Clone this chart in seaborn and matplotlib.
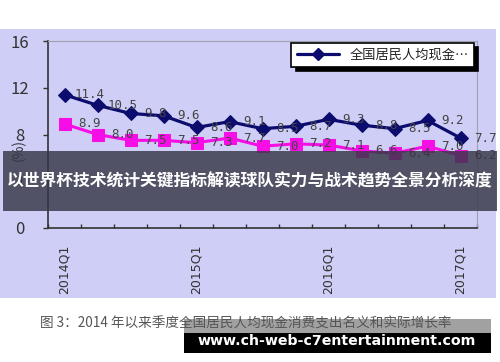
import matplotlib
matplotlib.use("Agg")
import matplotlib.pyplot as plt
import seaborn as sns
import pandas as pd
from matplotlib.patches import Rectangle
from matplotlib.lines import Line2D

# ---- data ----
quarters = ["2014Q1", "2014Q2", "2014Q3", "2014Q4",
            "2015Q1", "2015Q2", "2015Q3", "2015Q4",
            "2016Q1", "2016Q2", "2016Q3", "2016Q4", "2017Q1"]
shown_ticks = ["2014Q1", "2015Q1", "2016Q1", "2017Q1"]
nominal = [11.4, 10.5, 9.8, 9.6, 8.6, 9.1, 8.5, 8.7, 9.3, 8.8, 8.5, 9.2, 7.7]
real = [8.9, 8.0, 7.5, 7.5, 7.3, 7.7, 7.0, 7.2, 7.1, 6.6, 6.4, 7.0, 6.2]
legend_label = "全国居民人均现金…"
series_names = ["nominal", "real"]
y_ticks = [0, 4, 8, 12, 16]
caption = "图 3：2014 年以来季度全国居民人均现金消费支出名义和实际增长率"
banner = "以世界杯技术统计关键指标解读球队实力与战术趋势全景分析深度"
watermark = "www.ch-web-c7entertainment.com"

sns.set_style("white")
plt.rcParams["font.family"] = ["Noto Sans CJK SC", "DejaVu Sans"]

W, H = 500, 362
fig = plt.figure(figsize=(W / 100, H / 100), dpi=100)
fig.patch.set_facecolor("white")

def px_rect(x0, y0, x1, y1, **kw):
    fig.patches.append(Rectangle((x0 / W, 1 - y1 / H), (x1 - x0) / W, (y1 - y0) / H,
                                 transform=fig.transFigure, **kw))

lav = "#CECEF6"
px_rect(0, 29, 496, 298, facecolor=lav, edgecolor="none", zorder=-5)

ax_l, ax_r, ax_t, ax_b = 48, 477, 41, 228
ax = fig.add_axes([ax_l / W, 1 - ax_b / H, (ax_r - ax_l) / W, (ax_b - ax_t) / H])
ax.set_facecolor(lav)
ax.set_zorder(1)

idx = list(range(len(quarters)))
df = pd.DataFrame({
    "x": idx * 2,
    "y": nominal + real,
    "s": [series_names[0]] * len(idx) + [series_names[1]] * len(idx),
})
blue = "#0C0C6E"
pink = "#F70DE6"
sns.lineplot(data=df[df.s == "nominal"], x="x", y="y", color=blue, marker="D",
             markersize=7, linewidth=2.3, markeredgecolor=blue, ax=ax, legend=False, zorder=3)
sns.lineplot(data=df[df.s == "real"], x="x", y="y", color=pink, marker="s",
             markersize=9, linewidth=2.2, markeredgecolor=pink, ax=ax, legend=False, zorder=2)

lab_kw = dict(textcoords="offset points", ha="center", va="center", fontsize=9,
              color="#444444", family="DejaVu Sans Mono", annotation_clip=False, zorder=4)
for i, v in enumerate(nominal):
    ax.annotate(f"{v:.1f}", (i, v), xytext=(18, 0), **lab_kw)
for i, v in enumerate(real):
    ax.annotate(f"{v:.1f}", (i, v), xytext=(18, 0), **lab_kw)

ax.set_xlim(-0.5, len(quarters) - 0.5)
ax.set_ylim(0, 16)
ax.set_yticks(y_ticks)
ax.set_yticklabels([str(t) for t in y_ticks], fontsize=12, color="#333333")
ax.tick_params(axis="y", direction="out", length=3.6, width=1, color="#333333", pad=17, left=True)
for lab in ax.get_yticklabels():
    lab.set_ha("center")

major = [quarters.index(q) for q in shown_ticks]
ax.set_xticks(major)
ax.set_xticklabels(shown_ticks, rotation=90, fontsize=9, color="#333333", family="DejaVu Sans")
ax.set_xticks([i - 0.5 for i in range(len(quarters) + 1)], minor=True)
ax.tick_params(axis="x", which="major", length=0, pad=12)
ax.tick_params(axis="x", which="minor", direction="in", length=3, width=1, color="#333333", bottom=True)
ax.set_xlabel("")
ax.set_ylabel("")

for s in ["left", "bottom"]:
    ax.spines[s].set_color("#333333")
    ax.spines[s].set_linewidth(1.2)
for s in ["top", "right"]:
    ax.spines[s].set_color("#A0A0B0")
    ax.spines[s].set_linewidth(0.8)

fig.text(19 / W, 1 - 150 / H, "(%)", rotation=90, ha="center", va="center",
         fontsize=10, color="#333333", zorder=2)

handle = Line2D([], [], color=blue, marker="D", markersize=6, linewidth=2.3)
leg = ax.legend([handle], [legend_label], loc="upper right", bbox_to_anchor=(0.993, 0.989),
                borderaxespad=0, fancybox=False, frameon=True, handlelength=3.2,
                shadow={"color": "black", "alpha": 1, "ox": 3, "oy": -3},
                prop={"family": ["Noto Sans CJK SC"], "size": 9.5})
leg.get_frame().set_edgecolor("black")
leg.get_frame().set_linewidth(1.2)
leg.get_frame().set_facecolor("white")
for t in leg.get_texts():
    t.set_color("#222222")

# overlay banner
px_rect(3, 151, 497, 211, facecolor=(55 / 255, 55 / 255, 71 / 255), alpha=0.82,
        edgecolor="none", zorder=10)
fig.text(250 / W, 1 - 181 / H, banner, ha="center", va="center", color="white",
         fontsize=12.1, fontweight="bold", zorder=11)

# caption and watermark
fig.text(40 / W, 1 - 324 / H, caption, ha="left", va="center", color="#555555",
         fontsize=9.8, zorder=5)
px_rect(184, 319, 491, 333, facecolor="#555555", alpha=0.55, edgecolor="none", zorder=6)
px_rect(184, 333, 491, 353, facecolor="black", edgecolor="none", zorder=7)
fig.text(337 / W, 1 - 341 / H, watermark, ha="center", va="center", color="white",
         fontsize=10.2, fontweight="bold", family="DejaVu Sans", zorder=8)

fig.savefig("out.png", dpi=100, facecolor="white")
